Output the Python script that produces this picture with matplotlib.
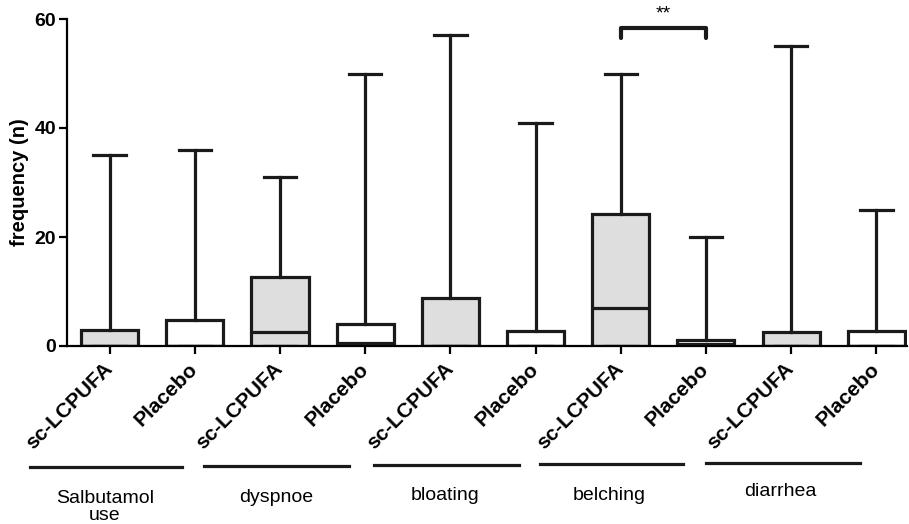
import matplotlib
matplotlib.use("Agg")
import matplotlib.pyplot as plt
from matplotlib.lines import Line2D

plt.rcParams['font.family'] = ['Liberation Sans', 'DejaVu Sans']

labels = ["sc-LCPUFA", "Placebo"] * 5
groups = ["Salbutamol\nuse", "dyspnoe", "bloating", "belching", "diarrhea"]
whislo = [0, 0, 0, 0, 0, 0, 0, 0, 0, 0]
q1 = [0, 0, 0, 0, 0, 0, 0, 0, 0, 0]
med = [0, 0, 2.6, 0.6, 0, 0, 7.0, 0.3, 0, 0]
q3 = [3.0, 4.8, 12.6, 4.1, 8.8, 2.7, 24.2, 1.1, 2.6, 2.8]
whishi = [35, 36, 31, 50, 57, 41, 50, 20, 55, 25]
fills = ["#dedede", "white"] * 5

fig = plt.figure(figsize=(9.09, 5.24), dpi=100)
ax = fig.add_axes([67/909, 1-346/524, (907-67)/909, (346-19)/524])

stats = []
for i in range(10):
    stats.append(dict(med=med[i], q1=q1[i], q3=q3[i], whislo=whislo[i],
                      whishi=whishi[i], fliers=[]))
pos = list(range(1, 11))
bp = ax.bxp(stats, positions=pos, widths=0.67, patch_artist=True,
            showfliers=False,
            boxprops=dict(linewidth=2.3, edgecolor="#1a1a1a"),
            medianprops=dict(linewidth=2.3, color="#1a1a1a"),
            whiskerprops=dict(linewidth=2.3, color="#1a1a1a"),
            capprops=dict(linewidth=2.3, color="#1a1a1a"),
            capwidths=0.38)
for patch, c in zip(bp['boxes'], fills):
    patch.set_facecolor(c)
    patch.set_zorder(2)

ax.set_xlim(0.5, 10.36)
ax.set_ylim(0, 60)
ax.set_yticks([0, 20, 40, 60])
ax.set_xticks(pos)
ax.set_xticklabels(labels, rotation=45, ha='right', va='center',
                   rotation_mode='anchor', fontsize=15, fontweight='bold')
for t in ax.get_xticklabels():
    t.set_y(-0.02)
    t.set_x(t.get_position()[0])
ax.tick_params(axis='y', labelsize=14, width=1.6, length=6, pad=2)
for t in ax.get_yticklabels():
    t.set_fontweight('bold')
ax.tick_params(axis='x', width=1.6, length=6)
ax.set_ylabel("frequency (n)", fontsize=14.5, fontweight='bold', labelpad=4)
for s in ['top', 'right']:
    ax.spines[s].set_visible(False)
for s in ['left', 'bottom']:
    ax.spines[s].set_linewidth(1.6)
ax.spines['bottom'].set_bounds(0.5, 10.36)

# significance bracket between box 7 and 8
ax.plot([7, 7, 8, 8], [56.6, 58.3, 58.3, 56.6], color="#1a1a1a", lw=3,
        clip_on=False, solid_capstyle='round')
ax.text(7.5, 59.3, "**", ha='center', va='bottom', fontsize=14)

# group lines and labels (figure pixel coords)
line_x = [(30, 182), (204, 349), (374, 519), (540, 683), (706, 860)]
line_y = [467, 466, 465, 464, 463]
text_x = [105, 276, 445, 609, 780]
text_y = [507, 498, 495, 495, 492]
for (x0, x1), ly, tx, ty, g in zip(line_x, line_y, text_x, text_y, groups):
    fig.add_artist(Line2D([x0/909, x1/909], [1-ly/524, 1-ly/524],
                          color="#1a1a1a", lw=2.3))
    fig.text(tx/909, 1-ty/524, g, ha='center', va='center', fontsize=14,
             linespacing=0.95)

fig.savefig("out.png", dpi=100)
